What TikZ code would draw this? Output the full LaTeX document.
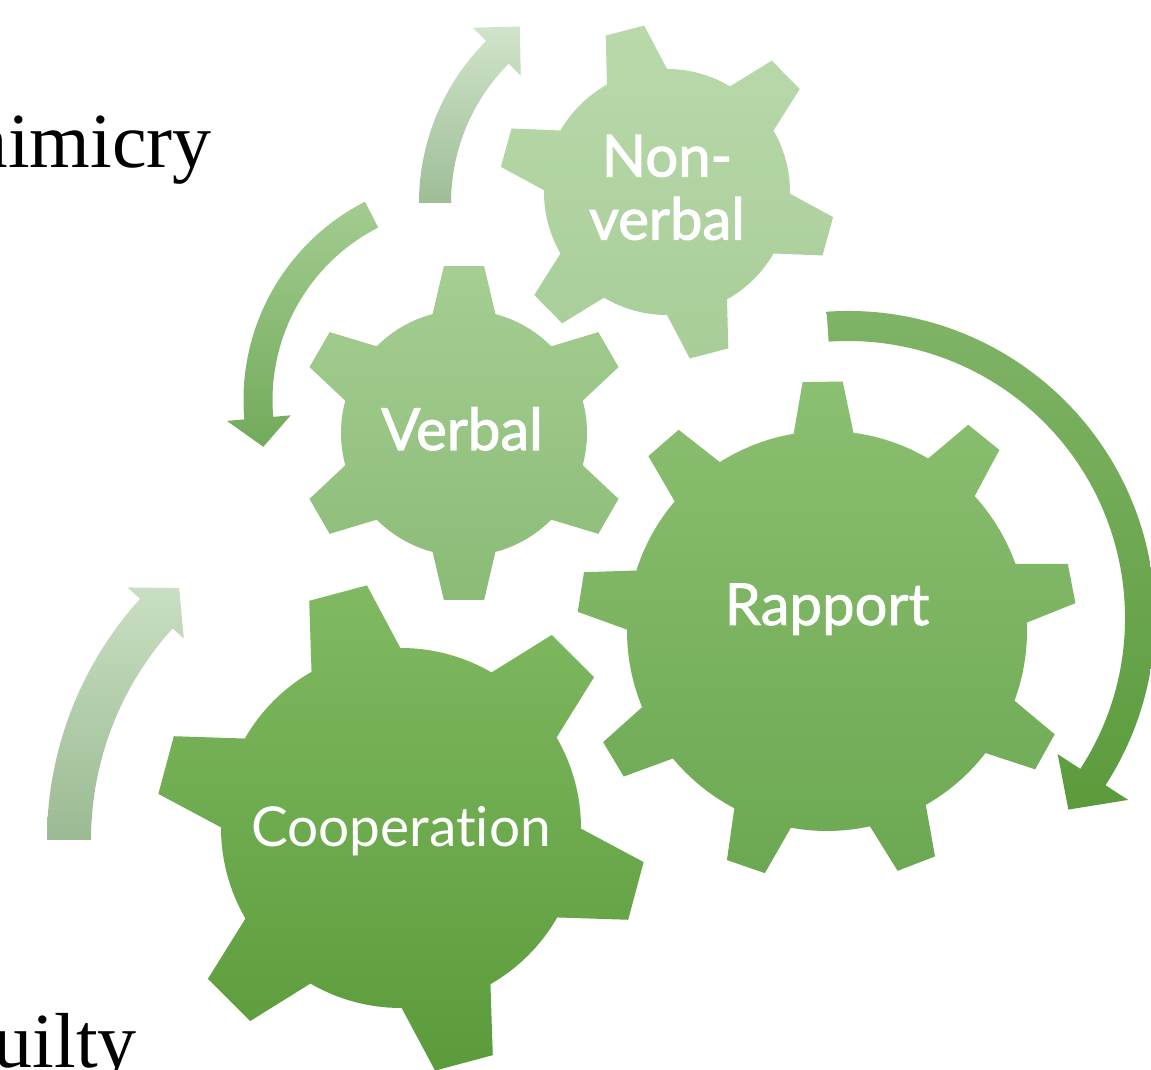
\documentclass[tikz,border=0pt]{standalone}
\usepackage{fontspec}
\setmainfont{Liberation Serif}
\newfontfamily\gearfont[Ligatures=NoCommon]{Lato}
\newfontfamily\gearmed[FakeBold=1.8,Ligatures=NoCommon]{Lato}
\newfontfamily\gearsemi[FakeBold=1.3,Ligatures=NoCommon]{Lato}
\definecolor{nvT}{HTML}{B9D9AB}
\definecolor{nvB}{HTML}{A8CD98}
\definecolor{vbT}{HTML}{A5CE92}
\definecolor{vbB}{HTML}{8BBB77}
\definecolor{rpT}{HTML}{8BBF71}
\definecolor{rpB}{HTML}{6CA852}
\definecolor{coT}{HTML}{80B961}
\definecolor{coB}{HTML}{5B9B3B}
\definecolor{a1T}{HTML}{D0E4C9}
\definecolor{a1B}{HTML}{9EBD97}
\definecolor{a2T}{HTML}{A3CC90}
\definecolor{a2B}{HTML}{72AA5A}
\definecolor{a3T}{HTML}{80B467}
\definecolor{a3B}{HTML}{5B9B3C}
\definecolor{a4T}{HTML}{C8DFC1}
\definecolor{a4B}{HTML}{9BBA93}
\newcommand\gearpath{({\gO-\gHB}:\gB pt) \foreach \k in {1,...,\gN}{ -- ({\gO+(\k-1)*360/\gN-\gHB}:\gB pt) -- ({\gO+(\k-1)*360/\gN-\gHT}:\gT pt) -- ({\gO+(\k-1)*360/\gN+\gHT}:\gT pt) -- ({\gO+(\k-1)*360/\gN+\gHB}:\gB pt) arc[start angle={\gO+(\k-1)*360/\gN+\gHB}, end angle={\gO+\k*360/\gN-\gHB}, radius=\gB pt]} -- cycle}
\tikzset{
  lbl/.style={text=white, inner sep=0pt},
  sidetext/.style={text=black, inner sep=0pt, font=\fontsize{78}{80}\selectfont},
}
\begin{document}
\begin{tikzpicture}[x=1pt,y=1pt]
\useasboundingbox (0,0) rectangle (1151,1070);
\fill[white] (0,0) rectangle (1151,1070);

% side texts
\node[sidetext, anchor=base east] (mim) at (212,902) {mimicry};
\node[sidetext, anchor=base east] (gui) at (137,2) {guilty};

% arrow around non-verbal gear
\begin{scope}[shift={(648,867)}]
\shade[top color=a1T, bottom color=a1B] (180:229pt) arc[start angle=180,end angle=135,radius=229pt] -- (135:248pt) -- (126:218pt) -- (135:180pt) -- (135:197pt) arc[start angle=135,end angle=180,radius=197pt] -- cycle;
\end{scope}
% arrow around verbal gear
\begin{scope}[shift={(466,670)}]
\shade[top color=a2T, bottom color=a2B] (117:222.5pt) arc[start angle=117,end angle=185,radius=222.5pt] -- (185:240pt) -- (193:208pt) -- (185:176pt) -- (185:193.5pt) arc[start angle=185,end angle=117,radius=193.5pt] -- cycle;
\end{scope}
% arrow around rapport gear
\begin{scope}[shift={(848,452)}]
\shade[top color=a3T, bottom color=a3B] (94:307pt) arc[start angle=94,end angle=-33,radius=307pt] -- (-33:334pt) -- (-41:292pt) -- (-33:250pt) -- (-33:277pt) arc[start angle=-33,end angle=94,radius=277pt] -- cycle;
\end{scope}
% arrow around cooperation gear
\begin{scope}[shift={(406,230)}]
\shade[top color=a4T, bottom color=a4B] (180:359pt) arc[start angle=180,end angle=137.8,radius=359pt] -- (137.8:376pt) -- (132:339pt) -- (137.8:300pt) -- (137.8:315pt) arc[start angle=137.8,end angle=180,radius=315pt] -- cycle;
\end{scope}

% Non-verbal gear
\begin{scope}[shift={(667,878)}]
\def\gN{6}\def\gO{44.6}\def\gB{123}\def\gT{168}\def\gHB{14.6}\def\gHT{6.8}
\shade[top color=nvT, bottom color=nvB] \gearpath;
\end{scope}
% Verbal gear
\begin{scope}[shift={(464,637)}]
\def\gN{6}\def\gO{90}\def\gB{123}\def\gT{168}\def\gHB{14.8}\def\gHT{6.9}
\shade[top color=vbT, bottom color=vbB] \gearpath;
\end{scope}
% Rapport gear
\begin{scope}[shift={(827,439)}]
\def\gN{9}\def\gO{91}\def\gB{200}\def\gT{250}\def\gHB{8.6}\def\gHT{4.6}
\shade[top color=rpT, bottom color=rpB] \gearpath;
\end{scope}
% Cooperation gear
\begin{scope}[shift={(401,242)}]
\def\gN{6}\def\gO{45}\def\gB{180}\def\gT{245}\def\gHB{14.8}\def\gHT{7.0}
\shade[top color=coT, bottom color=coB] \gearpath;
\end{scope}

% labels
\node[lbl, align=center, font=\gearmed\fontsize{58}{63}\selectfont] (nonverbal) at (667,882.5) {Non-\\verbal};
\node[lbl, anchor=base, font=\gearmed\fontsize{58}{63}\selectfont] (verbal) at (462,620) {Verbal};
\node[lbl, anchor=base, font=\gearsemi\fontsize{58}{63}\selectfont] (rapport) at (827,445) {Rapport};
\node[lbl, anchor=base, font=\gearfont\fontsize{55}{60}\selectfont] (cooperation) at (401,223) {Cooperation};
\end{tikzpicture}
\end{document}
